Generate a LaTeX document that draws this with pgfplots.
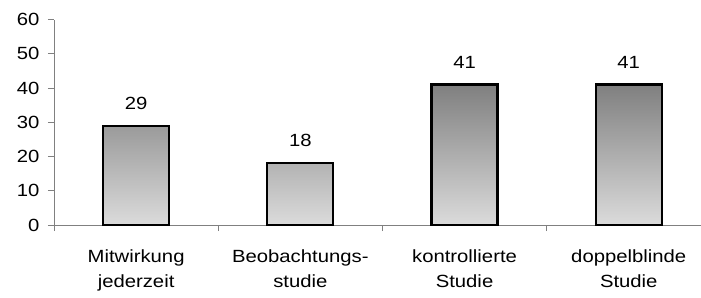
\documentclass[border=0pt]{standalone}
\usepackage{fontspec}
\setmainfont{Liberation Sans}[FakeStretch=1.15]
\usepackage{pgfplots}
\pgfplotsset{compat=1.18}
\begin{document}
\begin{tikzpicture}
\path[use as bounding box] (-54bp,-73bp) rectangle (647bp,225bp);
\begin{axis}[
  at={(0,0)}, anchor=south west,
  scale only axis, width=647bp, height=205.5bp,
  xmin=-0.5, xmax=3.44, ymin=0, ymax=60,
  axis x line=bottom, axis y line=left,
  axis line style={-, draw=black!50, line width=0.9bp},
  every tick/.style={draw=black!50, line width=0.9bp},
  tick align=outside, major tick length=6bp,
  /pgf/number format/assume math mode=true,
  tick label style={font=\fontsize{17.7}{25}\selectfont, text=black},
  ytick={0,10,...,60},
  yticklabel style={xshift=-5bp},
  xtick={-0.5,0.5,1.5,2.5}, xticklabels={},
  extra x ticks={0,1,2,3},
  extra x tick labels={{Mitwirkung\\jederzeit},{Beobachtungs-\\studie},{kontrollierte\\Studie},{doppelblinde\\Studie}},
  extra x tick style={major tick length=0pt, tick label style={align=center, yshift=-21bp}},
  clip=false,
]
\addplot[ybar, bar width=66bp, draw=black, line width=2.2bp, top color=black!50, bottom color=black!14,
  nodes near coords,
  every node near coord/.append style={text=black, font=\fontsize{17.7}{25}\selectfont, yshift=12bp}]
  coordinates {(0,29) (1,18) (2,41) (3,41)};
\end{axis}
\end{tikzpicture}
\end{document}
